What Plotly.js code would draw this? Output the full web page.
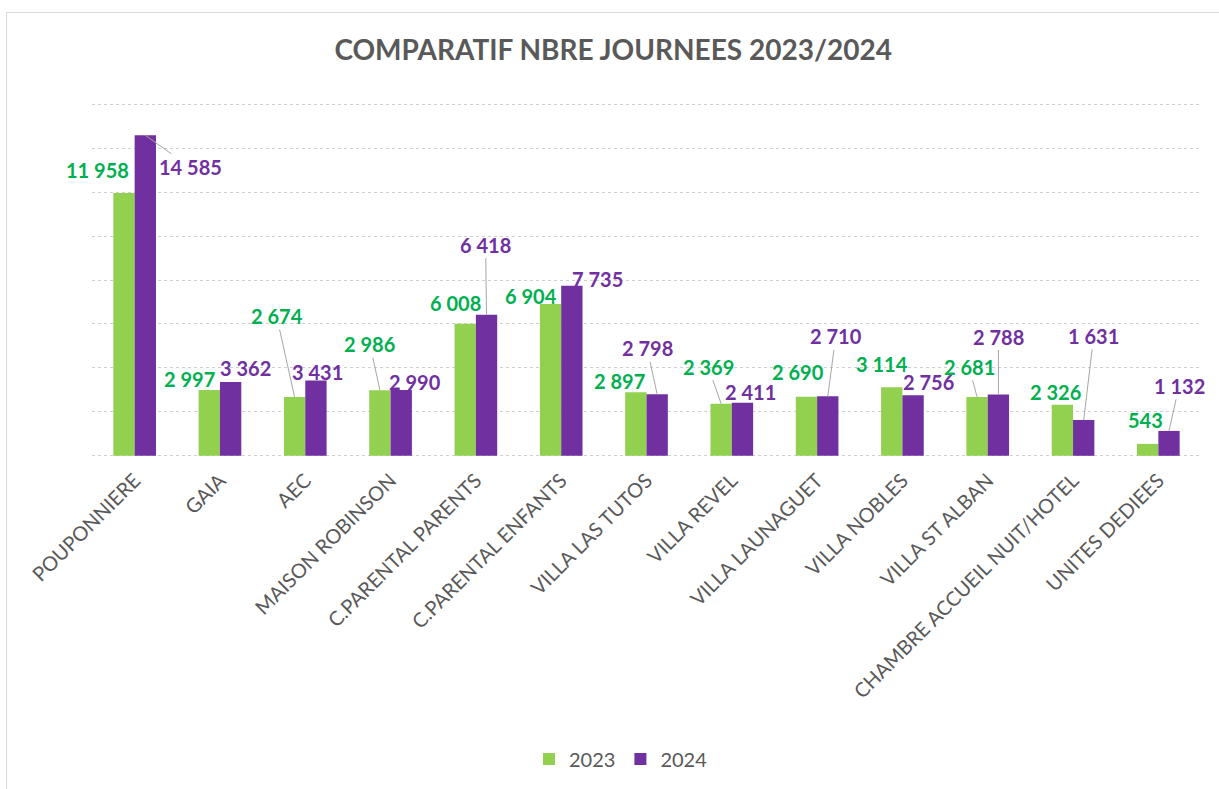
<!DOCTYPE html>
<html>
<head>
<meta charset="utf-8">
<script src="https://cdn.plot.ly/plotly-3.0.1.min.js"></script>
<style>
  html, body { margin: 0; padding: 0; background: #fff; }
  #chart { position: absolute; left: 0; top: 0; width: 1219px; height: 789px; }
  #frame { position: absolute; left: 6px; top: 12px; width: 1240px; height: 800px;
           border: 1px solid #d9d9d9; pointer-events: none; }
</style>
</head>
<body>
<div id="chart"></div>
<div id="frame"></div>
<script>
const categories = [
  'POUPONNIERE', 'GAIA', 'AEC', 'MAISON ROBINSON', 'C.PARENTAL PARENTS',
  'C.PARENTAL ENFANTS', 'VILLA LAS TUTOS', 'VILLA REVEL', 'VILLA LAUNAGUET',
  'VILLA NOBLES', 'VILLA ST ALBAN', 'CHAMBRE ACCUEIL NUIT/HOTEL', 'UNITES DEDIEES'
];
const values2023 = [11958, 2997, 2674, 2986, 6008, 6904, 2897, 2369, 2690, 3114, 2681, 2326, 543];
const values2024 = [14585, 3362, 3431, 2990, 6418, 7735, 2798, 2411, 2710, 2756, 2788, 1631, 1132];
const gridValues = [0, 2000, 4000, 6000, 8000, 10000, 12000, 14000, 16000];

// where Excel dragged each label: [dx, dy, leader line?] in px from the bar top
const offsets2023 = [
  [-26, -23, false], [-20, -11, false], [-18, -81, true], [-10, -46, true],
  [-10, -21, false], [-20, -8, false], [-16, -11, false], [-13, -37, true],
  [-8, -25, false], [-10, -23, false], [-8, -30, true], [-7, -13, false], [-2, -24, false]
];
const offsets2024 = [
  [45, 32, true], [15, -14, false], [2, -8, false], [14, -8, false],
  [-1, -70, true], [26, -7, false], [-10, -46, true], [8, -11, false],
  [8, -60, true], [15, -13, false], [0, -58, true], [10, -84, true], [10, -45, true]
];

const green = '#92d050';
const purple = '#7030a0';
const labelGreen = '#00b050';
const grey = '#595959';

const margin = { l: 92, r: 18, t: 102, b: 330 };
const bargap = 0.5;
const catWidth = (1219 - margin.l - margin.r) / categories.length;
const barShift = catWidth * (1 - bargap) / 4;

const fmt = v => String(v).replace(/\B(?=(\d{3})+(?!\d))/g, ' ');

function labels(values, offsets, color, shift) {
  return values.map((v, i) => ({
    x: categories[i],
    y: v,
    xshift: shift,
    text: fmt(v),
    showarrow: true,
    arrowhead: 0,
    arrowwidth: 1,
    arrowcolor: offsets[i][2] ? '#a6a6a6' : 'rgba(0,0,0,0)',
    standoff: 0,
    ax: offsets[i][0],
    ay: offsets[i][1],
    font: { family: 'Lato, sans-serif', size: 20, color: color, weight: 'bold' }
  }));
}

const traces = [
  { type: 'bar', name: '2023', x: categories, y: values2023, marker: { color: green }, hoverinfo: 'none' },
  { type: 'bar', name: '2024', x: categories, y: values2024, marker: { color: purple }, hoverinfo: 'none' }
];

const layout = {
  width: 1219,
  height: 789,
  margin: margin,
  barmode: 'group',
  bargap: bargap,
  bargroupgap: 0,
  paper_bgcolor: 'rgba(0,0,0,0)',
  plot_bgcolor: 'rgba(0,0,0,0)',
  font: { family: 'Lato, sans-serif', color: grey },
  title: {
    text: '<b>COMPARATIF NBRE JOURNEES 2023/2024</b>',
    x: 0.503, xanchor: 'center',
    y: 0.937, yanchor: 'middle',
    font: { family: 'Lato, sans-serif', size: 28, color: grey }
  },
  xaxis: {
    automargin: false,
    range: [-0.5, categories.length - 0.5],
    tickangle: -45,
    tickfont: { size: 20, color: grey },
    ticklabelstandoff: 6,
    showline: false,
    ticks: ''
  },
  yaxis: {
    automargin: false,
    range: [-100, 16100],
    tickvals: gridValues,
    showticklabels: false,
    gridcolor: '#d0d0d0',
    griddash: 'dot',
    gridwidth: 1,
    zeroline: false
  },
  legend: {
    orientation: 'h',
    x: 0.477, xanchor: 'center',
    y: -0.84, yanchor: 'middle',
    font: { size: 20, color: grey },
    itemwidth: 30
  },
  annotations: [
    ...labels(values2023, offsets2023, labelGreen, -barShift),
    ...labels(values2024, offsets2024, purple, barShift)
  ]
};

Plotly.newPlot('chart', traces, layout, { displayModeBar: false, staticPlot: true });
</script>
</body>
</html>
